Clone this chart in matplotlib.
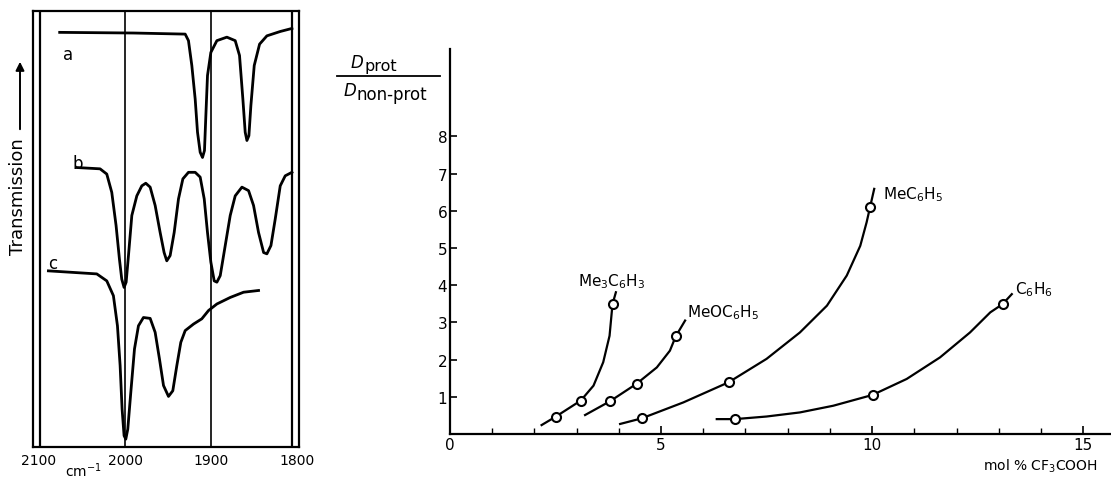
import matplotlib
matplotlib.use("Agg")
import matplotlib.pyplot as plt
from matplotlib.lines import Line2D
from matplotlib.patches import FancyArrowPatch

# --- left panel: IR spectra (wavenumber, transmission in arbitrary %) ---
a_wn = [2076, 1990.3, 1930.2, 1926.4, 1922.5, 1918.6, 1915.9, 1912.8, 1910.1, 1907.8,
        1906.2, 1904.3, 1900.4, 1893.4, 1881.8, 1872.1, 1867.1, 1863.2, 1860.5, 1858.5,
        1856.2, 1853.9, 1850.0, 1843.8, 1835.3, 1819.8, 1806.2]
a_tr = [95.1, 94.95, 94.7, 93.2, 87.5, 79.8, 72.2, 67.6, 66.4, 68.0,
        76.0, 85.2, 90.5, 93.2, 94.0, 93.2, 89.8, 79.8, 72.2, 70.3,
        71.4, 78.3, 87.5, 92.4, 94.3, 95.3, 96.0]

b_wn = [2056.2, 2029.1, 2021.3, 2015.5, 2010.5, 2006.6, 2003.9, 2001.2, 1998.8, 1996.1,
        1992.2, 1986.4, 1980.6, 1976.0, 1970.9, 1965.1, 1959.3, 1954.7, 1951.6, 1947.7,
        1943.0, 1938.0, 1932.9, 1926.4, 1918.6, 1912.8, 1908.1, 1904.3, 1900.4, 1896.5,
        1893.4, 1889.5, 1883.7, 1877.9, 1872.1, 1864.3, 1856.6, 1850.8, 1845.0, 1839.1,
        1835.3, 1830.6, 1825.6, 1819.8, 1814.0, 1806.2]
b_tr = [64.1, 63.8, 62.6, 58.4, 50.8, 43.1, 38.5, 36.6, 37.8, 43.9,
        53.1, 57.6, 59.9, 60.5, 59.6, 55.4, 49.2, 44.6, 42.7, 43.9,
        49.2, 56.9, 61.5, 63.0, 63.0, 61.9, 56.9, 49.2, 42.4, 38.1,
        37.8, 39.3, 46.2, 53.1, 57.6, 59.6, 58.8, 55.4, 49.2, 44.6,
        44.3, 46.2, 52.3, 59.9, 62.2, 63.0]

c_wn = [2089.1, 2032.9, 2021.3, 2013.6, 2008.9, 2005.8, 2003.5, 2001.2, 1999.2, 1996.9,
        1993.4, 1989.1, 1984.5, 1978.7, 1970.9, 1965.1, 1960.1, 1955.4, 1949.6, 1944.6,
        1939.9, 1935.3, 1930.2, 1920.5, 1910.9, 1903.1, 1893.4, 1877.9, 1862.4, 1845.0]
c_tr = [40.4, 39.7, 38.1, 34.7, 27.8, 18.7, 8.7, 2.6, 1.8, 4.1,
        12.5, 22.5, 27.8, 29.7, 29.5, 26.3, 20.2, 14.1, 11.6, 12.9,
        18.7, 24.0, 26.7, 28.2, 29.4, 31.3, 32.8, 34.3, 35.5, 35.9]

spec_ticks = [2100, 2000, 1900, 1800]

# --- right panel: D_prot / D_non-prot vs mol % CF3COOH ---
names = [r"Me$_3$C$_6$H$_3$", r"MeOC$_6$H$_5$", r"MeC$_6$H$_5$", r"C$_6$H$_6$"]
pts_x = [[2.51, 3.10, 3.85], [3.79, 4.42, 5.35], [4.54, 6.60, 9.95], [6.75, 10.01, 13.09]]
pts_y = [[0.47, 0.90, 3.49], [0.88, 1.35, 2.63], [0.42, 1.39, 6.09], [0.40, 1.05, 3.49]]
# hand-drawn curves
trace_x = [[2.17, 2.51, 3.10, 3.40, 3.63, 3.78, 3.85, 3.93],
           [3.20, 3.79, 4.42, 4.90, 5.21, 5.35, 5.57],
           [4.03, 4.54, 5.53, 6.60, 7.50, 8.29, 8.93, 9.40, 9.72, 9.87, 9.95, 10.05],
           [6.32, 6.75, 7.50, 8.29, 9.08, 10.01, 10.82, 11.61, 12.32, 12.80, 13.09, 13.31]]
trace_y = [[0.24, 0.47, 0.90, 1.30, 1.93, 2.64, 3.49, 3.81],
           [0.51, 0.88, 1.35, 1.79, 2.24, 2.63, 3.05],
           [0.27, 0.42, 0.85, 1.39, 2.02, 2.73, 3.45, 4.26, 5.06, 5.69, 6.09, 6.59],
           [0.40, 0.40, 0.47, 0.58, 0.76, 1.05, 1.48, 2.06, 2.73, 3.27, 3.49, 3.76]]
label_xy = [(3.84, 4.11), (5.62, 3.28), (10.26, 6.45), (13.39, 3.9)]
label_ha = ["center", "left", "left", "left"]

W, H = 1111, 481
fig = plt.figure(figsize=(W / 100, H / 100), dpi=100)

# left panel
ax1 = fig.add_axes([33 / W, 33 / H, 266 / W, 436 / H])
ax1.set_xlim(2107, 1798)
ax1.set_ylim(0, 100)
for s in ax1.spines.values():
    s.set_linewidth(1.6)
for xv in [2099, 1806]:
    ax1.axvline(xv, color="black", lw=1.6)
for xv in [2000, 1900]:
    ax1.axvline(xv, color="black", lw=1.2)
for wn, tr in [(a_wn, a_tr), (b_wn, b_tr), (c_wn, c_tr)]:
    ax1.plot(wn, tr, color="black", lw=2.0, solid_joinstyle="round")
ax1.set_xticks(spec_ticks)
ax1.set_xticklabels([str(t) for t in spec_ticks], fontsize=10)
ax1.tick_params(axis="x", length=0, pad=4)
ax1.set_yticks([])
ax1.text(2072, 89, "a", fontsize=12)
ax1.text(2061, 64, "b", fontsize=12)
ax1.text(2089, 41, "c", fontsize=12)
ax1.text(2048, -5.2, "cm$^{-1}$", fontsize=10, ha="center", va="center", clip_on=False)

fig.text(18 / W, 1 - 197 / H, "Transmission", rotation=90, fontsize=13,
         ha="center", va="center")
fig.add_artist(FancyArrowPatch(
    (20 / W, 1 - 133 / H), (20 / W, 1 - 60 / H), transform=fig.transFigure,
    arrowstyle="-|>,head_length=5,head_width=2.5", color="black", lw=1.4))

# right panel
ax2 = fig.add_axes([450 / W, 46 / H, 661 / W, 385 / H])
ax2.set_xlim(0, 15.66)
ax2.set_ylim(0, 10.35)
ax2.spines["top"].set_visible(False)
ax2.spines["right"].set_visible(False)
ax2.spines["left"].set_linewidth(1.6)
ax2.spines["bottom"].set_linewidth(1.6)
ax2.set_xticks([0, 5, 10, 15])
ax2.set_xticklabels(["0", "5", "10", "15"], fontsize=11)
ax2.set_xticks(range(1, 16), minor=True)
ax2.set_yticks(range(1, 9))
ax2.set_yticklabels([str(i) for i in range(1, 9)], fontsize=11)
ax2.tick_params(axis="both", which="major", direction="in", length=5, width=1.2, pad=2)
ax2.tick_params(axis="x", which="minor", direction="in", length=4, width=1.0)
ax2.tick_params(axis="x", which="major", length=6)

for i in range(len(names)):
    ax2.plot(trace_x[i], trace_y[i], color="black", lw=1.6, solid_joinstyle="round")
    ax2.plot(pts_x[i], pts_y[i], linestyle="none", marker="o", markersize=6.5,
             markerfacecolor="white", markeredgecolor="black", markeredgewidth=1.5)
    ax2.text(label_xy[i][0], label_xy[i][1], names[i], fontsize=11,
             ha=label_ha[i], va="center")

fig.text(1098 / W, 1 - 466 / H, r"mol % CF$_3$COOH", fontsize=10,
         ha="right", va="center")

# y label as a fraction: D_prot / D_non-prot
fig.text(357 / W, 1 - 63 / H, "D", fontsize=12, style="italic", ha="center", va="center")
fig.text(365 / W, 1 - 67 / H, "prot", fontsize=11.5, ha="left", va="center")
fig.add_artist(Line2D([337 / W, 440 / W], [1 - 77 / H, 1 - 77 / H],
                      transform=fig.transFigure, color="black", lw=1.3))
fig.text(350 / W, 1 - 91 / H, "D", fontsize=12, style="italic", ha="center", va="center")
fig.text(357 / W, 1 - 95 / H, "non-prot", fontsize=12, ha="left", va="center")

fig.savefig("out.png", dpi=100)
